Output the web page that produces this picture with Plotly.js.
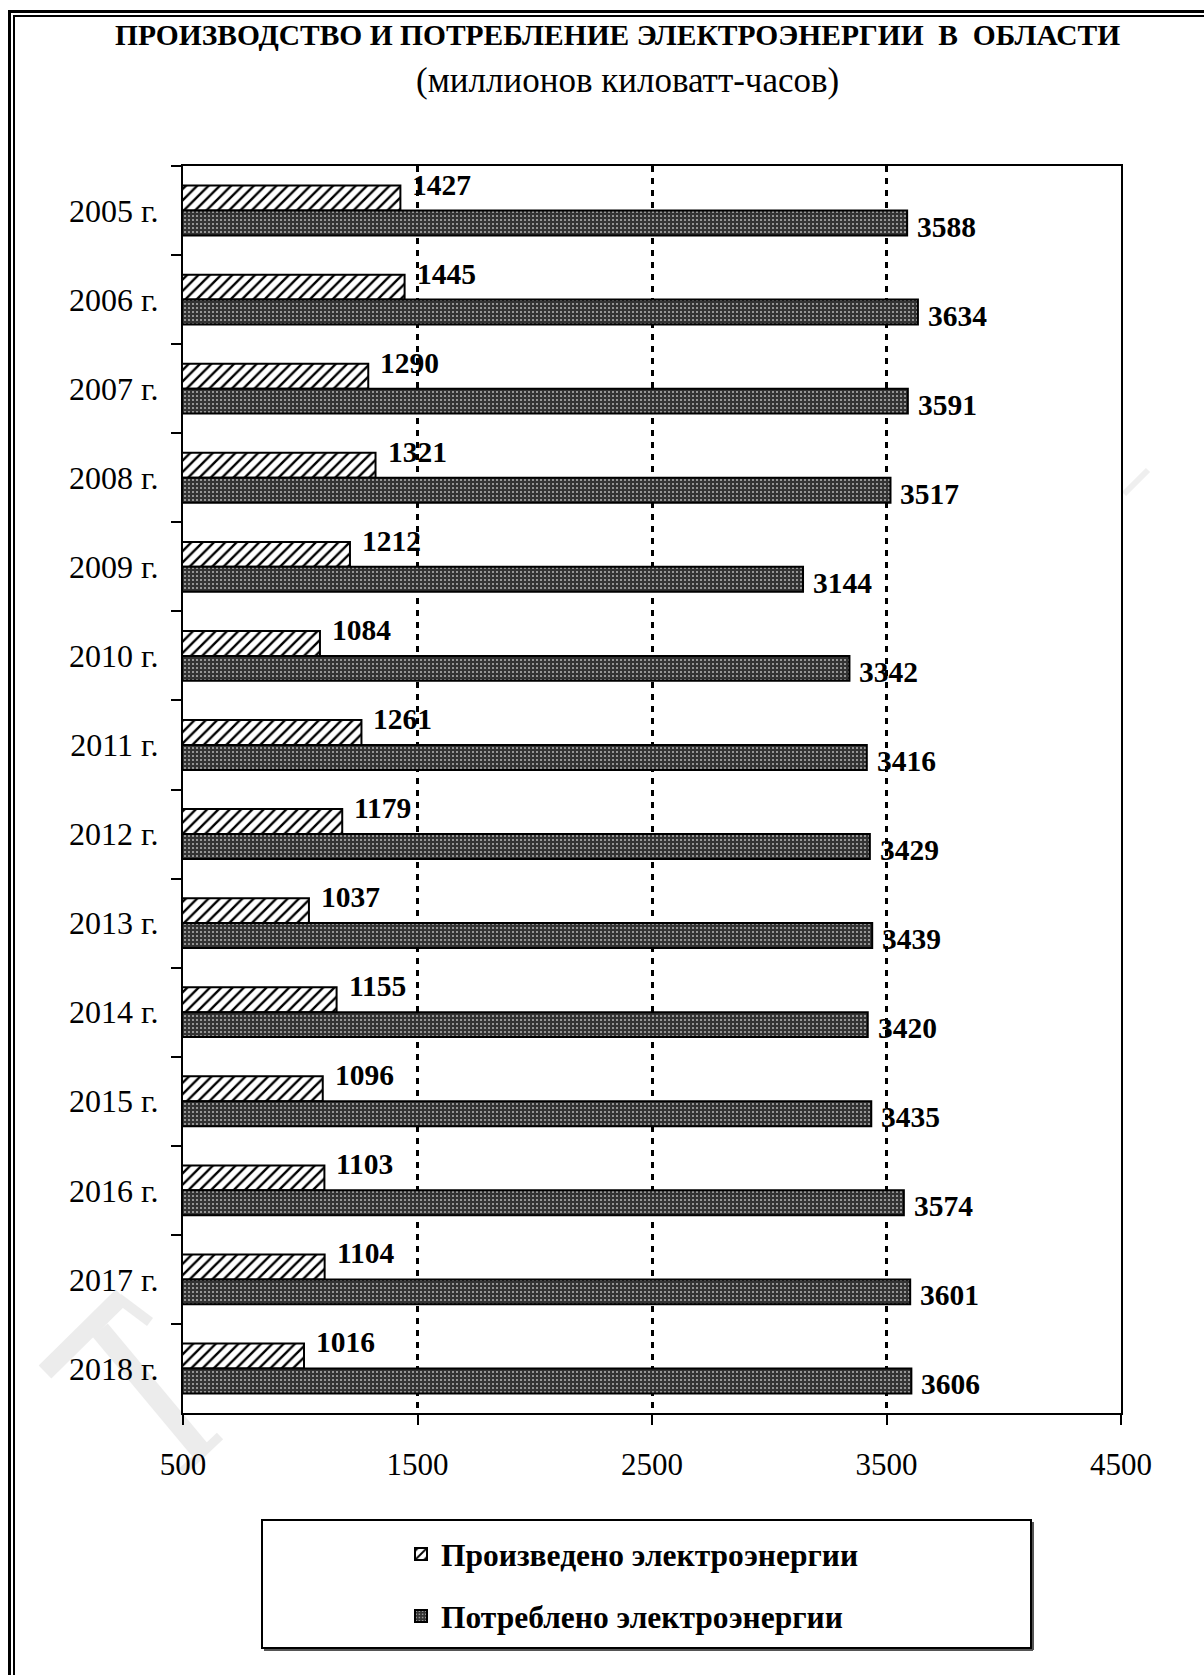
<!DOCTYPE html>
<html>
<head>
<meta charset="utf-8">
<script src="https://cdn.plot.ly/plotly-3.0.1.min.js"></script>
<style>
  html, body { margin: 0; padding: 0; background: #ffffff; }
  #chart { width: 1204px; height: 1675px; }
</style>
</head>
<body>
<div id="chart"></div>
<script>
// ---- data ----
const categories = ['2005 г.', '2006 г.', '2007 г.', '2008 г.', '2009 г.', '2010 г.', '2011 г.',
                    '2012 г.', '2013 г.', '2014 г.', '2015 г.', '2016 г.', '2017 г.', '2018 г.'];
const produced = [1427, 1445, 1290, 1321, 1212, 1084, 1261, 1179, 1037, 1155, 1096, 1103, 1104, 1016];
const consumed = [3588, 3634, 3591, 3517, 3144, 3342, 3416, 3429, 3439, 3420, 3435, 3574, 3601, 3606];
const xTickVals = [500, 1500, 2500, 3500, 4500];
const xTickText = ['500', '1500', '2500', '3500', '4500'];
const seriesNames = ['Произведено электроэнергии', 'Потреблено электроэнергии'];
const titleText = 'ПРОИЗВОДСТВО И ПОТРЕБЛЕНИЕ ЭЛЕКТРОЭНЕРГИИ  В  ОБЛАСТИ';
const subtitleText = '(миллионов киловатт-часов)';

// ---- layout geometry (pixels) ----
const W = 1204, H = 1675;
const M = { l: 183, r: W - 1121, t: 166, b: H - 1413 };
const PW = W - M.l - M.r, PH = H - M.t - M.b;
const px = x => (x - M.l) / PW;          // page pixel x -> paper
const py = y => (H - M.b - y) / PH;      // page pixel y -> paper

const SERIF = 'Liberation Serif, Times New Roman, serif';

const traces = [
  {
    type: 'bar', orientation: 'h', y: categories, x: produced, name: seriesNames[0],
    legendgroup: 'g1', hoverinfo: 'skip',
    marker: { color: '#ffffff', line: { color: '#000000', width: 2 },
      pattern: { shape: '/', fgcolor: '#000000', bgcolor: '#ffffff', size: 8, solidity: 0.3 } }
  },
  {
    type: 'bar', orientation: 'h', y: categories, x: consumed, name: seriesNames[1],
    legendgroup: 'g2', hoverinfo: 'skip',
    marker: { color: '#333333', line: { color: '#000000', width: 2 },
      pattern: { shape: '.', fgcolor: '#b5b5b5', bgcolor: '#333333', size: 4, solidity: 0.2 } }
  }
];

const annotations = [];
annotations.push({ xref: 'paper', yref: 'paper', x: px(617), y: py(35), xanchor: 'center', yanchor: 'middle',
  text: titleText, showarrow: false, font: { family: SERIF, size: 29.5, color: '#000', weight: 700 } });
annotations.push({ xref: 'paper', yref: 'paper', x: px(627), y: py(80), xanchor: 'center', yanchor: 'middle',
  text: subtitleText, showarrow: false, font: { family: SERIF, size: 35, color: '#000' } });

categories.forEach((c, i) => {
  annotations.push({ x: produced[i], y: c, xref: 'x', yref: 'y', text: String(produced[i]),
    xanchor: 'left', yanchor: 'middle', xshift: 10, yshift: 26, showarrow: false,
    font: { family: SERIF, size: 29.5, color: '#000', weight: 700 } });
  annotations.push({ x: consumed[i], y: c, xref: 'x', yref: 'y', text: String(consumed[i]),
    xanchor: 'left', yanchor: 'middle', xshift: 8, yshift: -16, showarrow: false,
    font: { family: SERIF, size: 29.5, color: '#000', weight: 700 } });
});

const line = (x0, y0, x1, y1, w, c, layer) => ({ type: 'line', xref: 'paper', yref: 'paper', layer: layer || 'above',
  x0: px(x0), y0: py(y0), x1: px(x1), y1: py(y1), line: { color: c || '#000', width: w } });

const WM = '#ececec';
const shapes = [
  // faint watermark strokes
  line(45, 1372, 122, 1296, 18, WM, 'below'),
  line(118, 1298, 150, 1322, 10, WM, 'below'),
  line(100, 1330, 200, 1450, 20, WM, 'below'),
  line(182, 1472, 220, 1436, 9, WM, 'below'),
  line(1124, 494, 1148, 470, 6, '#efefef', 'below'),
  // page frame (double line, left and top)
  line(9.5, 10, 9.5, H, 3),
  line(14, 15, 14, H, 2),
  line(8, 11.5, W, 11.5, 3),
  line(13, 16, W, 16, 2),
  // legend box with slight shadow
  line(264, 1650, 1033, 1650, 2, '#555'),
  line(1033, 1522, 1033, 1650, 2, '#555'),
  { type: 'rect', xref: 'paper', yref: 'paper', x0: px(262), y0: py(1520), x1: px(1031), y1: py(1648),
    line: { color: '#000', width: 2 }, fillcolor: 'rgba(0,0,0,0)' }
];

const layout = {
  width: W, height: H,
  margin: M,
  paper_bgcolor: '#ffffff', plot_bgcolor: '#ffffff',
  barmode: 'group', bargap: 0.44, bargroupgap: 0,
  showlegend: true,
  legend: {
    x: px(401), y: py(1527), xanchor: 'left', yanchor: 'top',
    bgcolor: 'rgba(0,0,0,0)', borderwidth: 0, tracegroupgap: 18, traceorder: 'grouped',
    font: { family: SERIF, size: 31.5, color: '#000', weight: 700 }
  },
  xaxis: {
    range: [500, 4500], tickmode: 'array', tickvals: xTickVals, ticktext: xTickText,
    ticks: 'outside', ticklen: 10, tickwidth: 2, tickcolor: '#000',
    showline: true, linecolor: '#000', linewidth: 2, mirror: true,
    showgrid: true, gridcolor: '#000', gridwidth: 3, griddash: '6px,6px',
    zeroline: false, fixedrange: true, ticklabelstandoff: 13,
    tickfont: { family: SERIF, size: 31, color: '#000' }
  },
  yaxis: {
    type: 'category', categoryorder: 'array', categoryarray: categories, autorange: 'reversed',
    tickson: 'boundaries', ticks: 'outside', ticklen: 10, tickwidth: 2, tickcolor: '#000',
    showline: true, linecolor: '#000', linewidth: 2, mirror: true,
    showgrid: false, zeroline: false, fixedrange: true, ticklabelstandoff: 16,
    tickfont: { family: SERIF, size: 32, color: '#000' }
  },
  annotations: annotations,
  shapes: shapes
};

Plotly.newPlot('chart', traces, layout, { staticPlot: true, displayModeBar: false });
</script>
</body>
</html>
